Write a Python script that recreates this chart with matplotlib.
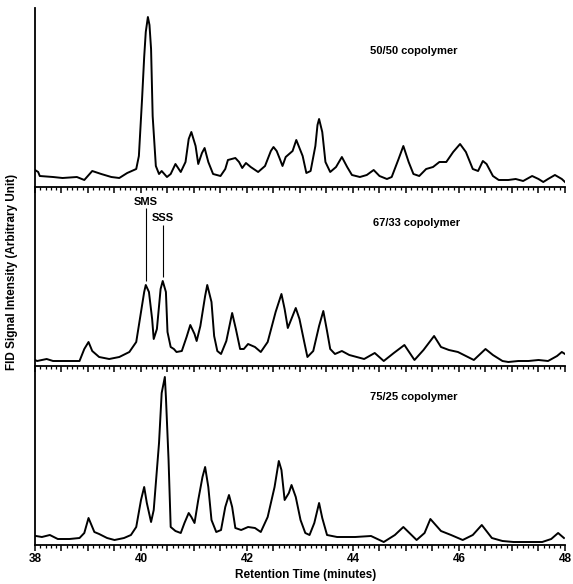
import numpy as np
import matplotlib.pyplot as plt
from matplotlib.ticker import MultipleLocator, FuncFormatter

plt.rcParams['font.family'] = ['Liberation Sans', 'DejaVu Sans']
plt.rcParams['font.weight'] = 'bold'

# retention time (min) and signal (arbitrary units)
t_5050 = [38.0, 38.06, 38.09, 38.34, 38.52, 38.79, 38.93, 39.08, 39.25, 39.44, 39.59, 39.74,
          39.91, 39.96, 40.02, 40.06, 40.09, 40.13, 40.16, 40.19, 40.22, 40.28, 40.34, 40.39, 40.49, 40.56,
          40.65, 40.75, 40.84, 40.90, 40.95, 41.03, 41.08, 41.15, 41.20, 41.27, 41.36, 41.50, 41.59, 41.64,
          41.78, 41.85, 41.91, 41.98, 42.07, 42.21, 42.34, 42.45, 42.50, 42.56, 42.62, 42.67, 42.73, 42.86,
          42.93, 43.05, 43.12, 43.20, 43.29, 43.33, 43.36, 43.42, 43.48, 43.57, 43.68, 43.79, 43.89,
          43.98, 44.13, 44.26, 44.39, 44.50, 44.64, 44.73, 44.86, 44.95, 45.05, 45.14, 45.25,
          45.38, 45.51, 45.63, 45.76, 45.89, 46.02, 46.13, 46.26, 46.36, 46.45, 46.52, 46.64,
          46.75, 46.93, 47.07, 47.21, 47.38, 47.50, 47.59, 47.68, 47.81, 47.94, 48.0]
y_5050 = [17, 15, 11, 10, 9, 10, 7, 16, 13, 10, 9, 14,
          18, 31, 88, 130, 155, 170, 162, 138, 71, 21, 13, 16, 10, 13,
          23, 15, 25, 48, 55, 41, 23, 34, 39, 25, 13, 11, 18, 27,
          29, 25, 19, 24, 20, 15, 21, 36, 40, 36, 28, 21, 30, 36,
          47, 31, 14, 16, 41, 62, 68, 55, 25, 15, 20, 30, 20,
          12, 10, 12, 17, 11, 8, 10, 28, 41, 25, 13, 11,
          18, 20, 25, 25, 35, 43, 35, 18, 16, 26, 23, 11,
          7, 7, 8, 6, 11, 8, 5, 8, 12, 8, 5]

t_6733 = [38.0, 38.04, 38.22, 38.34, 38.52, 38.84, 38.93, 39.01, 39.08, 39.21, 39.40, 39.59,
          39.78, 39.91, 40.00, 40.06, 40.09, 40.15, 40.21, 40.24, 40.30, 40.37, 40.41, 40.47,
          40.50, 40.56, 40.62, 40.67, 40.77, 40.86, 40.93, 41.01, 41.05, 41.12, 41.21, 41.25,
          41.33, 41.38, 41.44, 41.51, 41.61, 41.72, 41.79, 41.87, 41.94, 42.02, 42.15, 42.26,
          42.39, 42.54, 42.65, 42.71, 42.77, 42.86, 42.92, 42.99, 43.08, 43.14, 43.25, 43.36,
          43.44, 43.51, 43.57, 43.66, 43.79, 43.93, 44.21, 44.41, 44.58, 44.77, 44.97, 45.16,
          45.33, 45.53, 45.66, 45.81, 45.98, 46.13, 46.28, 46.50, 46.64, 46.82, 46.93, 47.12,
          47.31, 47.50, 47.68, 47.85, 47.94, 48.0]
y_6733 = [6, 5, 7, 5, 5, 5, 17, 24, 15, 9, 7, 9,
          14, 24, 54, 74, 81, 74, 47, 27, 37, 77, 85, 74,
          34, 19, 17, 14, 15, 29, 41, 32, 25, 40, 70, 81,
          64, 30, 15, 12, 25, 53, 37, 17, 17, 22, 19, 14,
          24, 54, 72, 57, 38, 50, 58, 47, 24, 9, 15, 40,
          55, 35, 17, 12, 15, 11, 7, 13, 5, 13, 21, 6,
          16, 30, 19, 16, 14, 10, 6, 17, 11, 5, 4, 5,
          5, 6, 5, 10, 14, 12]

t_7525 = [38.02, 38.13, 38.28, 38.43, 38.65, 38.84, 38.93, 39.01, 39.12, 39.21, 39.36, 39.50,
          39.68, 39.81, 39.91, 40.00, 40.06, 40.11, 40.19, 40.24, 40.34, 40.39, 40.45, 40.47,
          40.52, 40.56, 40.65, 40.75, 40.82, 40.90, 40.95, 41.01, 41.08, 41.16, 41.21, 41.27,
          41.33, 41.42, 41.51, 41.59, 41.66, 41.72, 41.78, 41.89, 42.02, 42.15, 42.26, 42.39,
          42.52, 42.60, 42.65, 42.71, 42.79, 42.84, 42.92, 43.01, 43.10, 43.18, 43.27, 43.36,
          43.42, 43.51, 43.70, 44.04, 44.34, 44.58, 44.79, 44.95, 45.20, 45.35, 45.46, 45.66,
          45.85, 46.07, 46.26, 46.43, 46.62, 46.82, 47.03, 47.31, 47.57, 47.74, 47.87, 47.98]
y_7525 = [9, 8, 10, 6, 6, 7, 12, 27, 13, 11, 7, 5,
          7, 10, 18, 45, 58, 42, 23, 35, 102, 152, 168, 148,
          85, 18, 14, 12, 22, 32, 28, 22, 45, 68, 78, 58,
          25, 13, 15, 38, 50, 38, 17, 15, 18, 17, 13, 28,
          58, 84, 75, 45, 52, 60, 48, 25, 12, 10, 22, 42,
          27, 10, 8, 8, 9, 3, 10, 18, 5, 12, 26, 14,
          10, 5, 10, 20, 7, 4, 3, 3, 3, 6, 12, 7]

panel_labels = ['50/50 copolymer', '67/33 copolymer', '75/25 copolymer']
label_pos = [(45.15, 136), (45.2, 143), (45.15, 148)]
peak_names = ['SMS', 'SSS']
peak_times = [40.09, 40.41]

traces = [(t_5050, y_5050), (t_6733, y_6733), (t_7525, y_7525)]

fig, axes = plt.subplots(3, 1, figsize=(5.73, 5.84), dpi=100, sharex=True)
fig.subplots_adjust(left=35 / 573, right=565 / 573, bottom=1 - 545 / 584, top=1 - 8 / 584,
                    hspace=0)

for ax, (t, y), lab, pos in zip(axes, traces, panel_labels, label_pos):
    ax.patch.set_visible(False)
    ax.plot(t, y, color='black', lw=1.4, solid_joinstyle='round')
    ax.set_xlim(38, 48)
    ax.set_ylim(0, 179)
    ax.spines['top'].set_visible(False)
    ax.spines['right'].set_visible(False)
    ax.spines['left'].set_linewidth(1.3)
    ax.spines['bottom'].set_linewidth(1.3)
    ax.set_yticks([])
    ax.xaxis.set_major_locator(MultipleLocator(0.5))
    ax.xaxis.set_minor_locator(MultipleLocator(0.1))
    ax.tick_params(axis='x', which='major', length=4, width=1.1, direction='out', pad=2,
                   labelsize=8.5)
    ax.tick_params(axis='x', which='minor', length=2.5, width=0.9, direction='out')
    ax.text(pos[0], pos[1], lab, ha='center', va='center', fontsize=8, fontweight='bold')

axes[-1].xaxis.set_major_formatter(
    FuncFormatter(lambda v, p: '%d' % v if abs(v - round(v)) < 1e-6 and round(v) % 2 == 0 else ''))
for lbl in axes[-1].get_xticklabels():
    lbl.set_fontweight('bold')

# SMS / SSS markers in the middle panel
mid = axes[1]
mid.text(peak_times[0], 164, peak_names[0], ha='center', va='center', fontsize=8, fontweight='bold')
mid.text(peak_times[1], 148, peak_names[1], ha='center', va='center', fontsize=8, fontweight='bold')
mid.vlines(peak_times[0], 85, 158, color='black', lw=0.8)
mid.vlines(peak_times[1], 89, 141, color='black', lw=0.8)

fig.text(0.534, 0.016, 'Retention Time (minutes)', ha='center', va='center',
         fontsize=8.5, fontweight='bold')
fig.text(0.021, 0.535, 'FID Signal Intensity (Arbitrary Unit)', ha='center', va='center',
         rotation=90, fontsize=8.5, fontweight='bold')

fig.savefig('out.png', dpi=100)
